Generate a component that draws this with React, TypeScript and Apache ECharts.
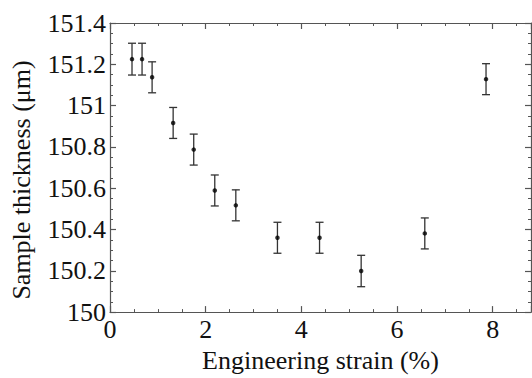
import React, { useEffect, useRef } from "react";
import * as echarts from "echarts";

const strain = [0.46, 0.67, 0.88, 1.32, 1.75, 2.19, 2.63, 3.5, 4.38, 5.25, 6.58, 7.86];
const thickness = [151.225, 151.225, 151.137, 150.916, 150.787, 150.589, 150.517, 150.36, 150.36, 150.199, 150.381, 151.128];
const errors = [0.077, 0.077, 0.075, 0.075, 0.075, 0.075, 0.075, 0.075, 0.075, 0.076, 0.075, 0.075];
const xTitle = "Engineering strain (%)";
const yTitle = "Sample thickness (\u03bcm)";

const FONT = "Liberation Serif";
const AXIS_COLOR = "#555";
const TEXT_COLOR = "#111";

export default function App() {
  const ref = useRef<HTMLDivElement>(null);
  useEffect(() => {
    if (!ref.current) return;
    const chart = echarts.init(ref.current, null, { renderer: "svg" });
    const points = strain.map((x, i) => [x, thickness[i]]);
    const bars = strain.map((x, i) => [x, thickness[i] - errors[i], thickness[i] + errors[i]]);
    const axisCommon = {
      axisLine: { show: true, onZero: false, lineStyle: { color: AXIS_COLOR, width: 1.2 } },
      axisTick: { show: true, inside: true, length: 6, lineStyle: { color: AXIS_COLOR, width: 1.2 } },
      minorTick: { show: true, splitNumber: 4, length: 3, lineStyle: { color: AXIS_COLOR, width: 1 } },
      splitLine: { show: false },
    };
    chart.setOption({
      animation: false,
      backgroundColor: "#fff",
      textStyle: { fontFamily: FONT, fontSize: 26 },
      grid: { left: 110, top: 23, right: 1, bottom: 51, containLabel: false },
      graphic: [
        {
          type: "text",
          x: 21.5,
          y: 180,
          rotation: Math.PI / 2,
          style: {
            text: yTitle,
            fontFamily: FONT,
            fontSize: 26,
            fill: TEXT_COLOR,
            align: "center",
            verticalAlign: "middle",
          },
        },
      ],
      xAxis: [
        {
          type: "value",
          min: 0,
          max: 8.8,
          interval: 2,
          position: "bottom",
          ...axisCommon,
          axisLabel: {
            show: true,
            margin: 4,
            fontFamily: FONT,
            fontSize: 26,
            color: TEXT_COLOR,
            showMaxLabel: false,
            formatter: (v: number) => (v % 2 === 0 ? String(v) : ""),
          },
          name: xTitle,
          nameLocation: "middle",
          nameGap: 26,
          nameTextStyle: { fontFamily: FONT, fontSize: 26, color: TEXT_COLOR },
        },
        {
          type: "value",
          min: 0,
          max: 8.8,
          interval: 2,
          position: "top",
          ...axisCommon,
          axisLabel: { show: false },
        },
      ],
      yAxis: [
        {
          type: "value",
          min: 150,
          max: 151.4,
          interval: 0.2,
          position: "left",
          ...axisCommon,
          axisLabel: {
            show: true,
            margin: 4,
            fontFamily: FONT,
            fontSize: 26,
            color: TEXT_COLOR,
            formatter: (v: number) => String(Math.round(v * 10) / 10),
          },
        },
        {
          type: "value",
          min: 150,
          max: 151.4,
          interval: 0.2,
          position: "right",
          ...axisCommon,
          axisLabel: { show: false },
        },
      ],
      series: [
        {
          type: "custom",
          xAxisIndex: 0,
          yAxisIndex: 0,
          data: bars,
          renderItem: (params: any, api: any) => {
            const x = api.value(0);
            const lo = api.coord([x, api.value(1)]);
            const hi = api.coord([x, api.value(2)]);
            const hw = 4;
            const style = { stroke: "#333", lineWidth: 1.3 };
            return {
              type: "group",
              children: [
                { type: "line", shape: { x1: lo[0], y1: lo[1], x2: hi[0], y2: hi[1] }, style },
                { type: "line", shape: { x1: lo[0] - hw, y1: lo[1], x2: lo[0] + hw, y2: lo[1] }, style },
                { type: "line", shape: { x1: hi[0] - hw, y1: hi[1], x2: hi[0] + hw, y2: hi[1] }, style },
              ],
            };
          },
          z: 2,
        },
        {
          type: "scatter",
          xAxisIndex: 0,
          yAxisIndex: 0,
          data: points,
          symbol: "circle",
          symbolSize: 4.5,
          itemStyle: { color: "#000" },
          z: 3,
        },
      ],
    });
    return () => chart.dispose();
  }, []);
  return (
    <div
      ref={ref}
      style={{ position: "fixed", left: 0, top: 0, width: 532, height: 378 }}
    />
  );
}
